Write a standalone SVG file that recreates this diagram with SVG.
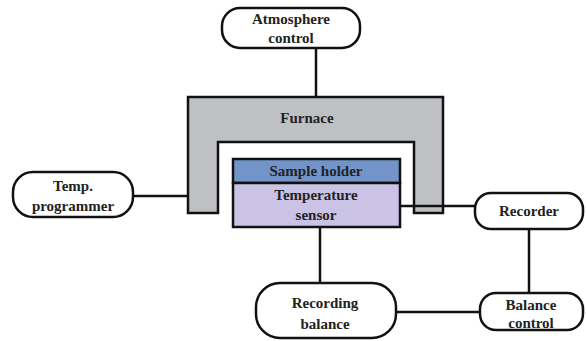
<svg xmlns="http://www.w3.org/2000/svg" width="586" height="341" viewBox="0 0 586 341">
<style>
.box{fill:#fff;stroke:#111;stroke-width:2.5}
.ln{fill:none;stroke:#111;stroke-width:2.5}
.t{font-family:'Liberation Serif','Times New Roman',serif;font-weight:bold;font-size:15px;fill:#222;text-anchor:middle}
</style>
<rect width="586" height="341" fill="#fff"/>
<g id="connectors">
<line class="ln" x1="316" y1="48" x2="316" y2="98"/>
<line class="ln" x1="133" y1="196" x2="200" y2="196"/>
<line class="ln" x1="320" y1="227" x2="320" y2="283"/>
<line class="ln" x1="529" y1="229" x2="529" y2="293"/>
<line class="ln" x1="396" y1="312" x2="481" y2="312"/>
</g>
<g id="furnace">
<path d="M188,97 H443 V213 H414 V142 H218 V213 H188 Z" fill="#bfc0c4" stroke="#111" stroke-width="2.5"/>
<text class="t" x="307" y="123">Furnace</text>
</g>
<g id="connector-recorder">
<line class="ln" x1="400" y1="206" x2="476" y2="206"/>
</g>
<g id="atmosphere">
<rect class="box" x="222" y="8" width="138" height="40" rx="18"/>
<text class="t" x="291" y="24">Atmosphere</text>
<text class="t" x="291" y="43">control</text>
</g>
<g id="sample-holder">
<rect x="233" y="159" width="167" height="24" fill="#7294c8" stroke="#111" stroke-width="2.5"/>
<text class="t" x="316" y="176">Sample holder</text>
</g>
<g id="temperature-sensor">
<rect x="233" y="183" width="167" height="44" fill="#cbc3e6" stroke="#111" stroke-width="2.5"/>
<text class="t" x="316" y="200">Temperature</text>
<text class="t" x="316" y="220">sensor</text>
</g>
<g id="temp-programmer">
<rect class="box" x="13" y="172" width="120" height="45" rx="20"/>
<text class="t" x="73" y="191">Temp.</text>
<text class="t" x="73" y="211">programmer</text>
</g>
<g id="recorder">
<rect class="box" x="475" y="193" width="108" height="36" rx="16"/>
<text class="t" x="529" y="216">Recorder</text>
</g>
<g id="recording-balance">
<rect class="box" x="256" y="283" width="140" height="55" rx="24"/>
<text class="t" x="325" y="308">Recording</text>
<text class="t" x="325" y="329">balance</text>
</g>
<g id="balance-control">
<rect class="box" x="480" y="293" width="103" height="37" rx="16"/>
<text class="t" x="531" y="310">Balance</text>
<text class="t" x="531" y="328">control</text>
</g>
</svg>
